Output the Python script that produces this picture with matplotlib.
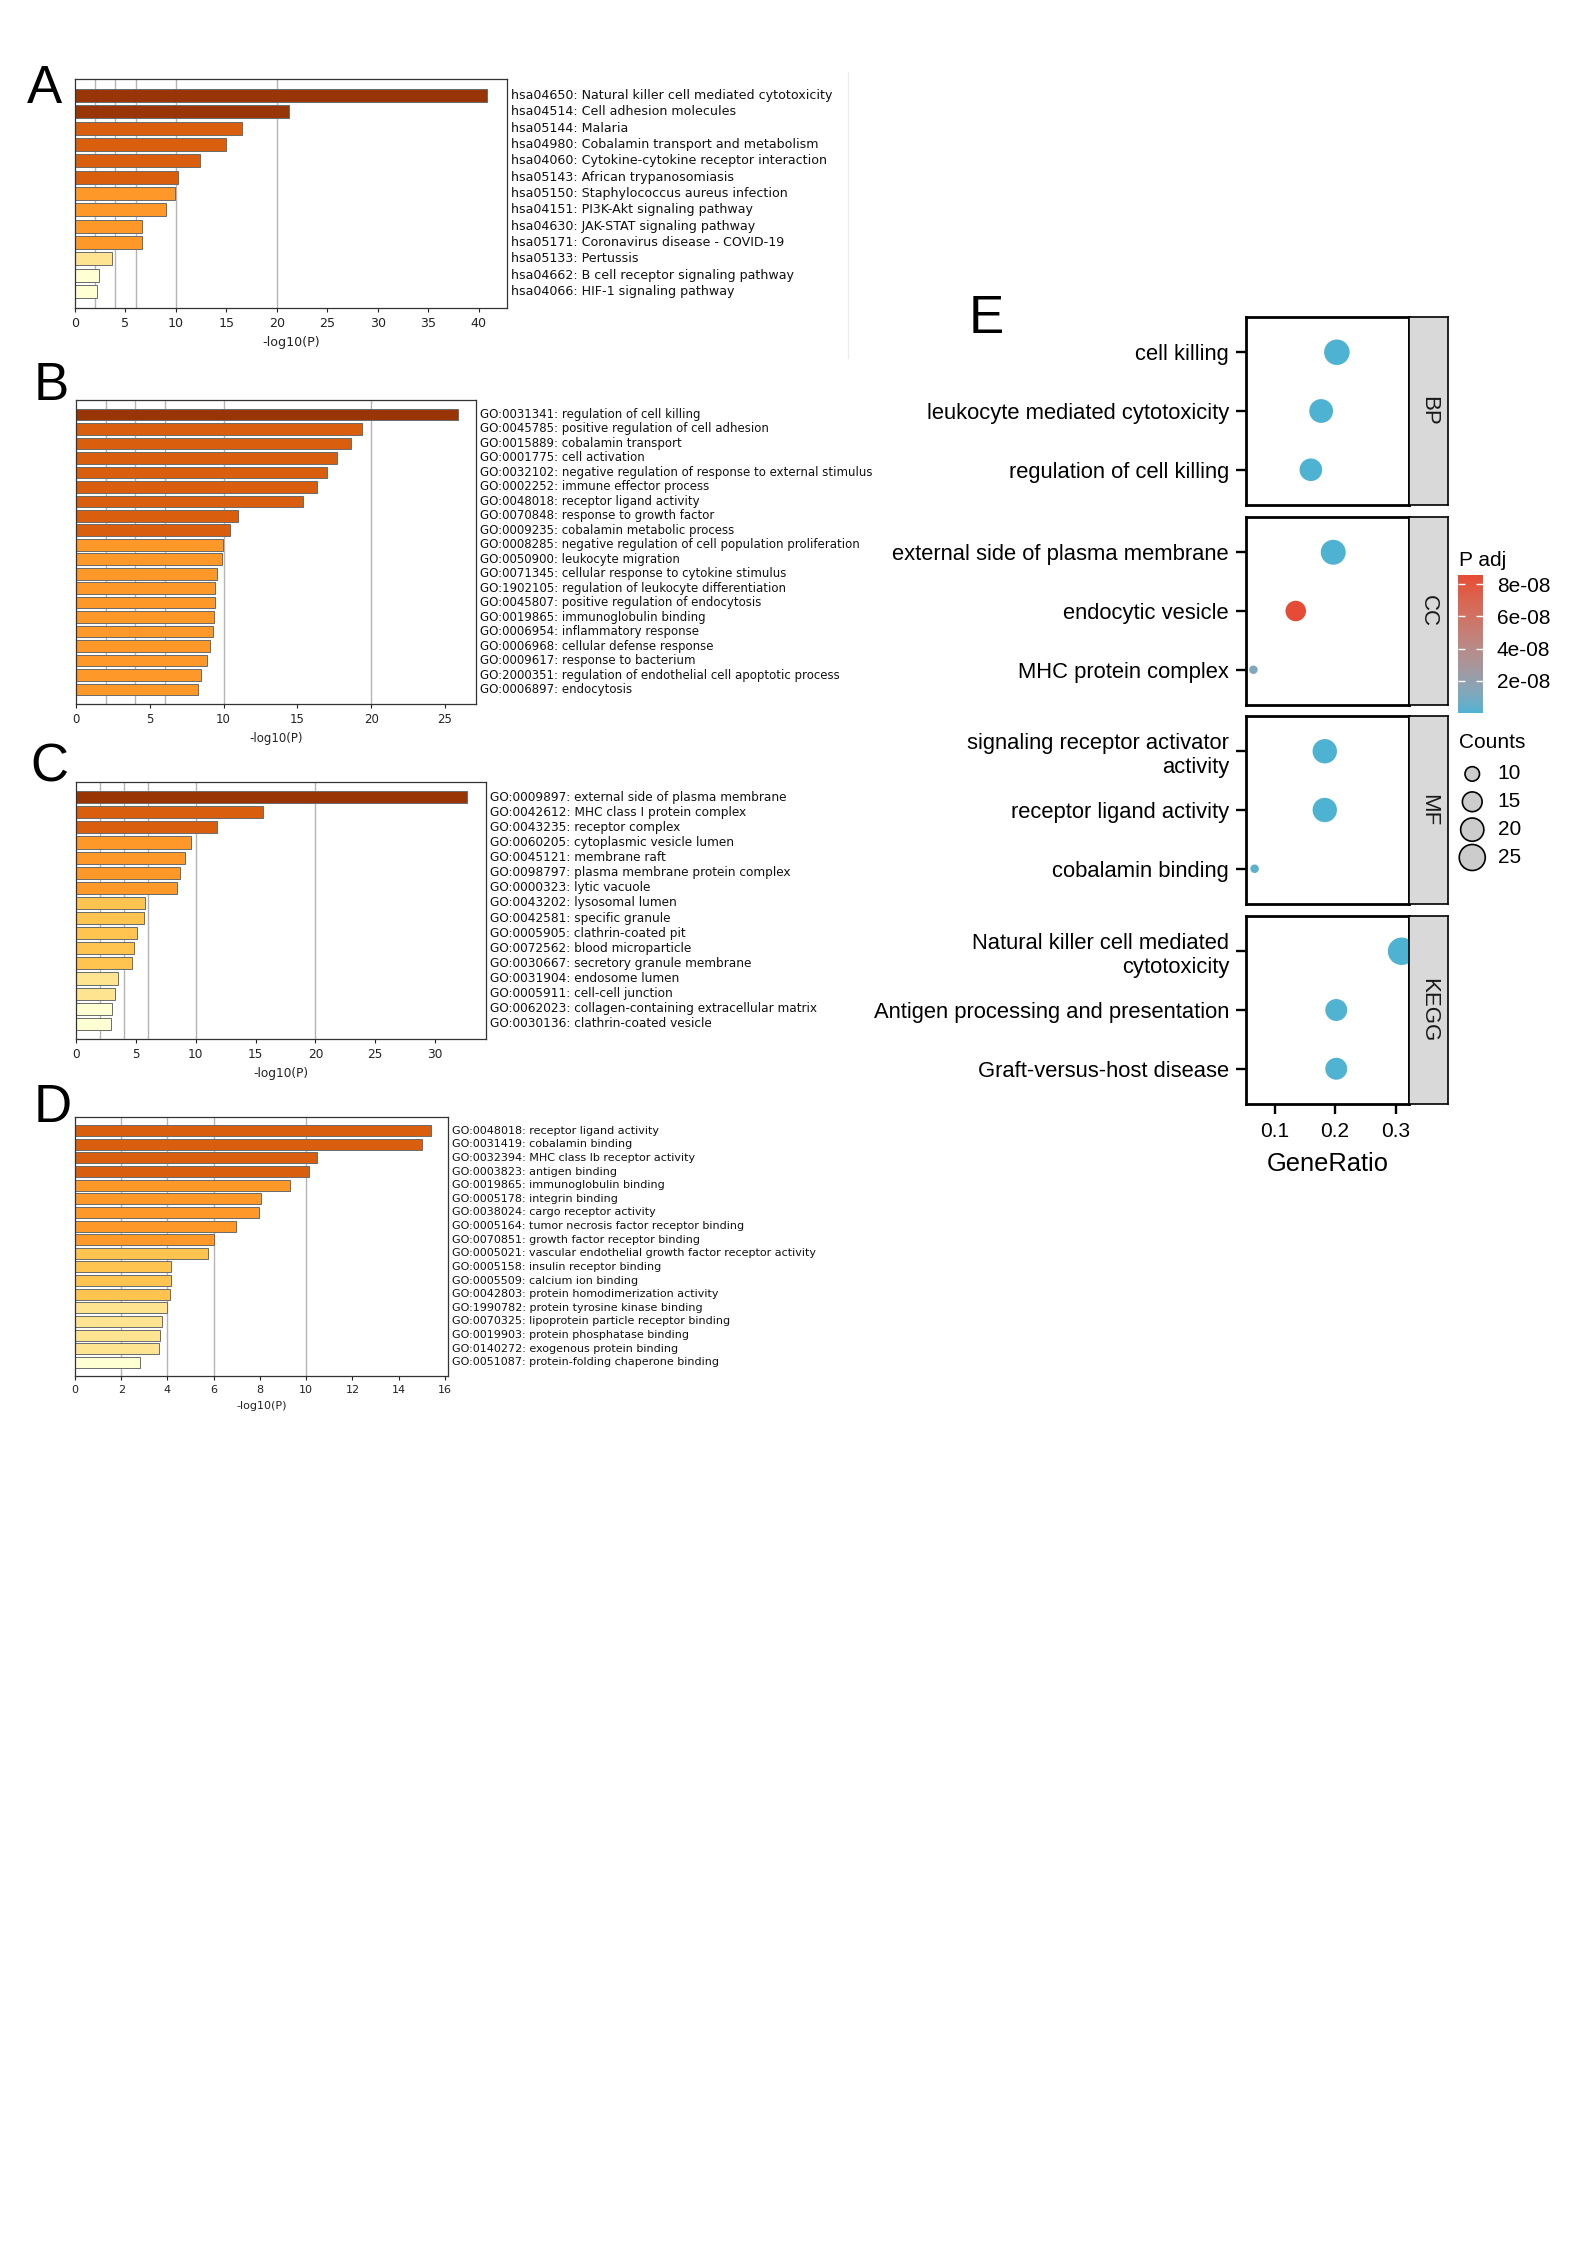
import numpy as np
import matplotlib
matplotlib.use("Agg")
import matplotlib.pyplot as plt
from matplotlib.cm import ScalarMappable
from matplotlib.colors import LinearSegmentedColormap, Normalize, to_rgb
from matplotlib.lines import Line2D
from matplotlib.transforms import blended_transform_factory

W, H, DPI = 1587, 2245, 100

# ---------------- panel A : KEGG (Metascape) ----------------
a_terms = ["hsa04650: Natural killer cell mediated cytotoxicity",
           "hsa04514: Cell adhesion molecules",
           "hsa05144: Malaria",
           "hsa04980: Cobalamin transport and metabolism",
           "hsa04060: Cytokine-cytokine receptor interaction",
           "hsa05143: African trypanosomiasis",
           "hsa05150: Staphylococcus aureus infection",
           "hsa04151: PI3K-Akt signaling pathway",
           "hsa04630: JAK-STAT signaling pathway",
           "hsa05171: Coronavirus disease - COVID-19",
           "hsa05133: Pertussis",
           "hsa04662: B cell receptor signaling pathway",
           "hsa04066: HIF-1 signaling pathway"]
a_logp = [40.8, 21.2, 16.5, 15.0, 12.4, 10.2, 9.9, 9.0, 6.65, 6.6, 3.7, 2.4, 2.2]

# ---------------- panel B : GO BP ----------------
b_terms = ["GO:0031341: regulation of cell killing",
           "GO:0045785: positive regulation of cell adhesion",
           "GO:0015889: cobalamin transport",
           "GO:0001775: cell activation",
           "GO:0032102: negative regulation of response to external stimulus",
           "GO:0002252: immune effector process",
           "GO:0048018: receptor ligand activity",
           "GO:0070848: response to growth factor",
           "GO:0009235: cobalamin metabolic process",
           "GO:0008285: negative regulation of cell population proliferation",
           "GO:0050900: leukocyte migration",
           "GO:0071345: cellular response to cytokine stimulus",
           "GO:1902105: regulation of leukocyte differentiation",
           "GO:0045807: positive regulation of endocytosis",
           "GO:0019865: immunoglobulin binding",
           "GO:0006954: inflammatory response",
           "GO:0006968: cellular defense response",
           "GO:0009617: response to bacterium",
           "GO:2000351: regulation of endothelial cell apoptotic process",
           "GO:0006897: endocytosis"]
b_logp = [25.9, 19.4, 18.6, 17.65, 17.0, 16.35, 15.4, 10.95, 10.45, 9.97,
          9.9, 9.55, 9.45, 9.4, 9.35, 9.25, 9.1, 8.9, 8.45, 8.25]

# ---------------- panel C : GO CC ----------------
c_terms = ["GO:0009897: external side of plasma membrane",
           "GO:0042612: MHC class I protein complex",
           "GO:0043235: receptor complex",
           "GO:0060205: cytoplasmic vesicle lumen",
           "GO:0045121: membrane raft",
           "GO:0098797: plasma membrane protein complex",
           "GO:0000323: lytic vacuole",
           "GO:0043202: lysosomal lumen",
           "GO:0042581: specific granule",
           "GO:0005905: clathrin-coated pit",
           "GO:0072562: blood microparticle",
           "GO:0030667: secretory granule membrane",
           "GO:0031904: endosome lumen",
           "GO:0005911: cell-cell junction",
           "GO:0062023: collagen-containing extracellular matrix",
           "GO:0030136: clathrin-coated vesicle"]
c_logp = [32.7, 15.6, 11.8, 9.58, 9.14, 8.69, 8.44, 5.79, 5.65, 5.07,
          4.87, 4.65, 3.54, 3.23, 2.98, 2.95]

# ---------------- panel D : GO MF ----------------
d_terms = ["GO:0048018: receptor ligand activity",
           "GO:0031419: cobalamin binding",
           "GO:0032394: MHC class Ib receptor activity",
           "GO:0003823: antigen binding",
           "GO:0019865: immunoglobulin binding",
           "GO:0005178: integrin binding",
           "GO:0038024: cargo receptor activity",
           "GO:0005164: tumor necrosis factor receptor binding",
           "GO:0070851: growth factor receptor binding",
           "GO:0005021: vascular endothelial growth factor receptor activity",
           "GO:0005158: insulin receptor binding",
           "GO:0005509: calcium ion binding",
           "GO:0042803: protein homodimerization activity",
           "GO:1990782: protein tyrosine kinase binding",
           "GO:0070325: lipoprotein particle receptor binding",
           "GO:0019903: protein phosphatase binding",
           "GO:0140272: exogenous protein binding",
           "GO:0051087: protein-folding chaperone binding"]
d_logp = [15.38, 14.99, 10.45, 10.14, 9.31, 8.05, 7.95, 6.98, 6.01, 5.77,
          4.14, 4.14, 4.11, 3.97, 3.78, 3.68, 3.65, 2.83]

# ---------------- panel E : dot plot ----------------
e_terms = ["cell killing", "leukocyte mediated cytotoxicity", "regulation of cell killing",
           "external side of plasma membrane", "endocytic vesicle", "MHC protein complex",
           "signaling receptor activator\nactivity", "receptor ligand activity", "cobalamin binding",
           "Natural killer cell mediated\ncytotoxicity", "Antigen processing and presentation",
           "Graft-versus-host disease"]
e_group = ["BP"] * 3 + ["CC"] * 3 + ["MF"] * 3 + ["KEGG"] * 3
e_ratio = [0.203, 0.177, 0.160, 0.197, 0.135, 0.065, 0.183, 0.183, 0.067, 0.310, 0.202, 0.202]
e_count = [24, 21, 19, 23, 16, 8, 22, 22, 8, 28, 18, 18]
e_padj = [3.1e-13, 2.4e-12, 6.0e-12, 4.2e-14, 8.56e-08, 1.2e-08,
          1.5e-10, 1.5e-10, 2.6e-09, 1.1e-15, 3.4e-10, 3.4e-10]
groups = ["BP", "CC", "MF", "KEGG"]
padj_ticks = [2e-08, 4e-08, 6e-08, 8e-08]
count_breaks = [10, 15, 20, 25]
ratio_ticks = [0.1, 0.2, 0.3]

plt.rcParams["font.family"] = "DejaVu Sans"
fig = plt.figure(figsize=(W / DPI, H / DPI), dpi=DPI)


def frac(x0, y0, x1, y1):
    # pixel box (origin top-left) -> figure rect
    return [x0 / W, 1 - y1 / H, (x1 - x0) / W, (y1 - y0) / H]


def bar_color(v):
    if v >= 20:
        return "#993404"
    if v >= 10:
        return "#D95F0E"
    if v >= 6:
        return "#FE9929"
    if v >= 4:
        return "#FEC44F"
    if v >= 3:
        return "#FEE391"
    return "#FFFFD4"


def bar_panel(rect, terms, logp, xmax, step, fs):
    ax = fig.add_axes(rect)
    n = len(terms)
    pos = np.arange(n)
    for g in [2, 4, 6, 10, 20]:
        if g < xmax:
            ax.axvline(g, color="#b4b4b4", lw=1.0, zorder=0)
    ax.barh(pos, logp, height=0.8, color=[bar_color(v) for v in logp],
            edgecolor="#6b6b6b", linewidth=0.7, zorder=2)
    ax.set_xlim(0, xmax)
    ax.set_ylim(n, -1)
    ax.set_yticks([])
    ax.set_xticks(np.arange(0, xmax, step))
    ax.tick_params(axis="x", labelsize=fs, colors="#222222", length=3)
    ax.set_xlabel("-log10(P)", fontsize=fs, color="#222222")
    for s in ax.spines.values():
        s.set_color("#333333")
        s.set_linewidth(0.9)
    tr = blended_transform_factory(ax.transAxes, ax.transData)
    for i, t in enumerate(terms):
        ax.annotate(t, xy=(1, i), xycoords=tr, xytext=(3, 0), textcoords="offset points",
                    va="center", ha="left", fontsize=fs, color="#111111")
    return ax


bar_panel(frac(75, 79, 507, 308), a_terms, a_logp, 42.8, 5, 9.1)
bar_panel(frac(76, 400, 476, 704), b_terms, b_logp, 27.1, 5, 8.5)
bar_panel(frac(76, 782, 486, 1039), c_terms, c_logp, 34.26, 5, 8.7)
bar_panel(frac(75, 1117, 448, 1376), d_terms, d_logp, 16.13, 2, 8.0)

# faint crop lines left over in the original composite
fig.add_artist(Line2D([848 / W, 848 / W], [1 - 72 / H, 1 - 358 / H], color="#ececec", lw=0.8))

# panel letters
for lab, x, y, in [("A", 27, 103), ("B", 34, 400), ("C", 30, 781), ("D", 34, 1122), ("E", 969, 333)]:
    fig.text(x / W, 1 - y / H, lab, fontsize=38, family="Liberation Sans",
             ha="left", va="baseline")


# ---- colour scale: ggplot-like gradient interpolated in CIELAB ----
M = np.array([[0.4124, 0.3576, 0.1805], [0.2126, 0.7152, 0.0722], [0.0193, 0.1192, 0.9505]])
WHITE = M.sum(axis=1)


def to_lab(rgb):
    c = np.array(rgb)
    lin = np.where(c <= 0.04045, c / 12.92, ((c + 0.055) / 1.055) ** 2.4)
    xyz = M @ lin / WHITE
    f = np.where(xyz > (6 / 29) ** 3, np.cbrt(xyz), xyz / (3 * (6 / 29) ** 2) + 4 / 29)
    return np.array([116 * f[1] - 16, 500 * (f[0] - f[1]), 200 * (f[1] - f[2])])


def from_lab(lab):
    fy = (lab[0] + 16) / 116
    f = np.array([fy + lab[1] / 500, fy, fy - lab[2] / 200])
    xyz = np.where(f > 6 / 29, f ** 3, 3 * (6 / 29) ** 2 * (f - 4 / 29)) * WHITE
    lin = np.clip(np.linalg.solve(M, xyz), 0, 1)
    return np.clip(np.where(lin <= 0.0031308, 12.92 * lin, 1.055 * lin ** (1 / 2.4) - 0.055), 0, 1)


lo, hi = to_lab(to_rgb("#4EB3D3")), to_lab(to_rgb("#E64B35"))
cmap = LinearSegmentedColormap.from_list(
    "padj", [from_lab(lo + t * (hi - lo)) for t in np.linspace(0, 1, 64)])
norm = Normalize(min(e_padj), max(e_padj))

cmin, cmax = min(e_count), max(e_count)


def msize(c):
    d_px = 8.5 + 19 * np.sqrt((c - cmin) / (cmax - cmin))
    return (d_px * 72 / DPI) ** 2


rng = max(e_ratio) - min(e_ratio)
xlo, xhi = min(e_ratio) - 0.05 * rng, max(e_ratio) + 0.05 * rng

EF = "Liberation Sans"
tops = [317, 517, 716, 916]
fh = 188
for k, g in enumerate(groups):
    idx = [i for i, gg in enumerate(e_group) if gg == g]
    ax = fig.add_axes(frac(1246, tops[k], 1409, tops[k] + fh))
    ax.scatter([e_ratio[i] for i in idx], np.arange(len(idx)),
               s=[msize(e_count[i]) for i in idx], c=[e_padj[i] for i in idx],
               cmap=cmap, norm=norm, linewidths=0, zorder=3)
    ax.set_xlim(xlo, xhi)
    ax.set_ylim(len(idx) - 1 + 0.6, -0.6)
    ax.set_yticks(np.arange(len(idx)))
    ax.set_yticklabels([e_terms[i] for i in idx], fontsize=15.8, family=EF, color="black")
    ax.tick_params(axis="y", length=7.2, width=1.7, pad=5, color="black")
    for s in ax.spines.values():
        s.set_linewidth(2.0)
        s.set_color("black")
    if k == len(groups) - 1:
        ax.set_xticks(ratio_ticks)
        ax.set_xticklabels([f"{t:.1f}" for t in ratio_ticks], fontsize=15, family=EF)
        ax.tick_params(axis="x", length=7.2, width=1.7, pad=6, color="black")
        ax.set_xlabel("GeneRatio", fontsize=18.4, family=EF, labelpad=8)
    else:
        ax.set_xticks([])
    sax = fig.add_axes(frac(1409, tops[k], 1448, tops[k] + fh))
    sax.set_facecolor("#D9D9D9")
    sax.set_xticks([])
    sax.set_yticks([])
    for s in sax.spines.values():
        s.set_linewidth(1.2)
    sax.text(0.5, 0.5, g, rotation=-90, ha="center", va="center", fontsize=16,
             family=EF, color="#1a1a1a", transform=sax.transAxes)

# P adj colourbar
fig.text(1459 / W, 1 - 560 / H, "P adj", fontsize=15, family=EF, va="center", ha="left")
cax = fig.add_axes(frac(1458, 575, 1483, 713))
cb = fig.colorbar(ScalarMappable(norm=norm, cmap=cmap), cax=cax)
cb.outline.set_visible(False)
cb.set_ticks(padj_ticks)
cb.set_ticklabels([f"{t:.0e}" for t in padj_ticks], fontsize=15, family=EF)
cax.tick_params(axis="y", direction="in", length=5, width=1, color="white",
                left=True, right=True, pad=10)

# Counts legend
fig.text(1459 / W, 1 - 743 / H, "Counts", fontsize=15, family=EF, va="center", ha="left")
lax = fig.add_axes(frac(1455, 760, 1570, 877))
lax.axis("off")
lax.set_xlim(0, 1)
lax.set_ylim(len(count_breaks) - 0.3, -0.5)
lax.scatter([0.15] * len(count_breaks), np.arange(len(count_breaks)),
            s=[msize(v) for v in count_breaks], facecolor="#CCCCCC",
            edgecolor="black", linewidths=1.2, clip_on=False)
for i, v in enumerate(count_breaks):
    lax.text(0.37, i, str(v), fontsize=15, family=EF, va="center", ha="left")

fig.savefig("out.png", dpi=DPI)
